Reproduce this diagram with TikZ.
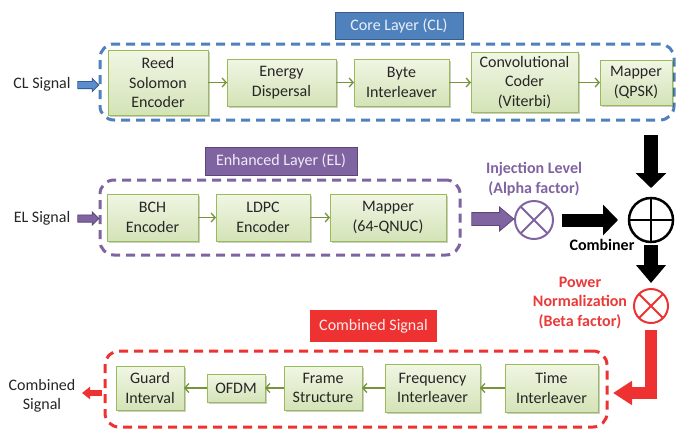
\documentclass[tikz,border=0pt]{standalone}
\usepackage{fontspec}
\setmainfont{Carlito}
\usetikzlibrary{arrows.meta,shapes.arrows,shadows}
\definecolor{cblue}{HTML}{4F81BD}
\definecolor{cbluedk}{HTML}{385D8A}
\definecolor{cbluelt}{HTML}{5B8ED0}
\definecolor{cpurple}{HTML}{8064A2}
\definecolor{cpurpledk}{HTML}{5C4776}
\definecolor{cred}{HTML}{EE3232}
\definecolor{credtxt}{HTML}{EA3A3A}
\definecolor{gborder}{HTML}{9BBB59}
\definecolor{gtop}{HTML}{F0F6E4}
\definecolor{gbot}{HTML}{D4E3B7}
\definecolor{garrow}{HTML}{77933C}
\definecolor{ctxt}{HTML}{262626}
\begin{document}
\begin{tikzpicture}[x=1pt,y=-1pt,
  every node/.style={font=\fontsize{16}{19.5}\selectfont, inner sep=0pt, outer sep=0pt, text=ctxt},
  gbox/.style={draw=gborder, line width=1pt, top color=gtop, bottom color=gbot, align=center,
    drop shadow={shadow xshift=1.5pt, shadow yshift=-1.5pt, fill=black, opacity=0.2}},
  dbox/.style={draw=#1, line width=3pt, dash pattern=on 9pt off 6pt, rounded corners=14pt},
  lbox/.style={fill=#1, align=center},
  garr/.style={draw=garrow, line width=1.3pt, -{Straight Barb[length=4pt,width=9pt]}},
  barr/.style={draw=black, line width=14pt, -{Triangle[width=30pt,length=15pt]}},
  sarrow/.style={single arrow, draw=#1, line width=0.8pt, single arrow head indent=0pt, inner xsep=0pt},
  bfont/.style={font=\bfseries\fontsize{16}{19.5}\selectfont, align=center}
]
\useasboundingbox (0,0) rectangle (677,429);
\fill[white] (0,0) rectangle (677,429);

% ---------- Core layer ----------
\node[dbox=cblue, minimum width=574pt, minimum height=76pt] (core) at (387,82) {};
\node[lbox=cblue, draw=cbluedk, line width=0.8pt, minimum width=128pt, minimum height=27pt, text=white!88!cblue] (corelbl) at (399,25.5) {Core Layer (CL)};

\node[gbox, minimum width=100pt, minimum height=65pt] (rs) at (158,82.5) {Reed\\Solomon\\Encoder};
\node[gbox, minimum width=109pt, minimum height=47pt] (ed) at (281.5,82.5) {Energy\\Dispersal};
\node[gbox, minimum width=95pt, minimum height=47pt] (bi) at (401.5,82.5) {Byte\\Interleaver};
\node[gbox, minimum width=107pt, minimum height=60pt] (cc) at (524.5,82.5) {Convolutional\\Coder\\(Viterbi)};
\node[gbox, minimum width=72pt, minimum height=45pt] (mp) at (636,82.5) {Mapper\\(QPSK)};
\draw[garr] (rs) -- (ed);
\draw[garr] (ed) -- (bi);
\draw[garr] (bi) -- (cc);
\draw[garr] (cc) -- (mp);

\node (cltxt) at (42,84) {CL Signal};
\node[sarrow=cbluedk, fill=cbluelt, minimum height=21pt, inner ysep=3.2pt, single arrow head extend=3pt] (clarr) at (86.5,85) {};

% ---------- Enhanced layer ----------
\node[dbox=cpurple, minimum width=360pt, minimum height=75pt] (el) at (280,217.5) {};
\node[lbox=cpurple, draw=cpurpledk, line width=0.8pt, minimum width=152pt, minimum height=28pt, text=white!88!cpurple] (ellbl) at (281,161) {Enhanced Layer (EL)};

\node[gbox, minimum width=91pt, minimum height=47pt] (bch) at (152.5,217.5) {BCH\\Encoder};
\node[gbox, minimum width=94pt, minimum height=47pt] (ldpc) at (263,217.5) {LDPC\\Encoder};
\node[gbox, minimum width=116pt, minimum height=47pt] (mq) at (388,217.5) {Mapper\\(64-QNUC)};
\draw[garr] (bch) -- (ldpc);
\draw[garr] (ldpc) -- (mq);

\node (eltxt) at (42,218) {EL Signal};
\node[sarrow=cpurpledk, fill=cpurple, minimum height=21pt, inner ysep=3.2pt, single arrow head extend=3pt] (elarr) at (86.5,218.5) {};

% ---------- Combining ----------
\node[sarrow=cpurpledk, fill=cpurple, minimum height=42pt, inner ysep=6pt, single arrow head extend=5.5pt, single arrow tip angle=80] (injarr) at (489,219) {};

\node[circle, draw=cpurple, line width=2pt, minimum size=38pt] (alpha) at (534,220) {};
\draw[cpurple, line width=2pt] (alpha.north east) -- (alpha.south west) (alpha.north west) -- (alpha.south east);
\node[bfont, text=cpurple] (injtxt) at (534,179) {Injection Level\\(Alpha factor)};

\node[circle, draw=black, line width=2.5pt, minimum size=44pt] (plus) at (651,220) {};
\draw[black, line width=2.5pt] (plus.north) -- (plus.south) (plus.west) -- (plus.east);
\node[bfont, text=black] (combtxt) at (602,245) {Combiner};

\coordinate (topstart) at (651,135);
\draw[barr, shorten >=10pt] (topstart) -- (plus.north);
\draw[barr, line width=13pt, shorten <=9pt, shorten >=11pt] (alpha.east) -- (plus.west);
\draw[barr, -{Triangle[width=29pt,length=18pt]}, shorten <=3pt, shorten >=6pt] (plus.south) -- (651,289);

\node[circle, draw=cred, line width=2pt, minimum size=34pt] (beta) at (651,306) {};
\draw[cred, line width=2pt] (beta.north east) -- (beta.south west) (beta.north west) -- (beta.south east);
\node[bfont, text=credtxt] (powtxt) at (580,303) {Power\\Normalization\\(Beta factor)};

% ---------- Combined signal ----------
\node[dbox=cred, minimum width=502pt, minimum height=76pt] (cs) at (356,389) {};
\node[lbox=cred, minimum width=127pt, minimum height=32pt, text=white!90!cred] (cslbl) at (373.5,326) {Combined Signal};

\node[gbox, minimum width=68pt, minimum height=44pt] (gi) at (150,388) {Guard\\Interval};
\node[gbox, minimum width=58pt, minimum height=28pt] (ofdm) at (236,388) {OFDM};
\node[gbox, minimum width=78pt, minimum height=44pt] (fs) at (323,388) {Frame\\Structure};
\node[gbox, minimum width=95pt, minimum height=48pt] (fi) at (432.5,388) {Frequency\\Interleaver};
\node[gbox, minimum width=93pt, minimum height=48pt] (ti) at (551.5,388) {Time\\Interleaver};
\draw[garr] (ti) -- (fi);
\draw[garr] (fi) -- (fs);
\draw[garr] (fs) -- (ofdm);
\draw[garr] (ofdm) -- (gi);

\coordinate (redtip) at (613,393);
\draw[draw=cred, line width=12pt, line join=miter, -{Triangle[width=23pt,length=19pt]}, shorten <=7pt] (beta.south) |- (redtip);

\node[align=center] (cstxt) at (42,396) {Combined\\Signal};
\coordinate (csout0) at (102,393);
\coordinate (csout1) at (82,393);
\draw[draw=cred, line width=6pt, -{Triangle[width=12pt,length=8pt]}] (csout0) -- (csout1);
\end{tikzpicture}
\end{document}
